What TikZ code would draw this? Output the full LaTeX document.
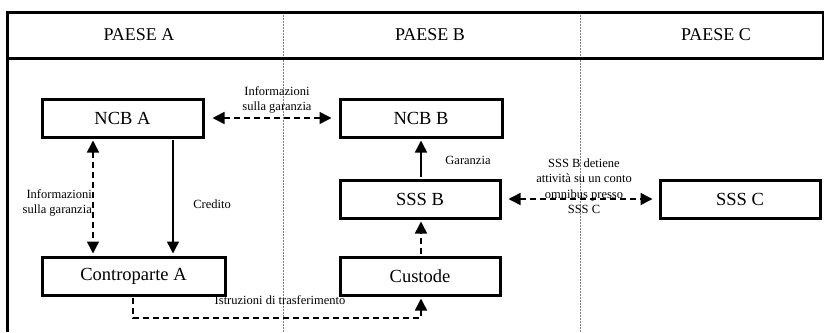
\documentclass[tikz,border=0pt]{standalone}
\usepackage{fontspec}
\setmainfont{Liberation Serif}
\usetikzlibrary{arrows.meta}
\begin{document}
\begin{tikzpicture}[x=1pt,y=-1pt,
  box/.style={draw=black,line width=3pt,fill=white,minimum height=38pt,inner sep=0pt,font=\fontsize{18.5}{22}\selectfont},
  head/.style={font=\fontsize{18}{22}\selectfont,inner sep=0pt},
  lbl/.style={font=\fontsize{12.5}{15.5}\selectfont,inner sep=0pt,align=center},
  conn/.style={line width=1.5pt,-{Triangle[length=12pt,width=12pt]}},
  biconn/.style={line width=1.5pt,{Triangle[length=12pt,width=12pt]}-{Triangle[length=12pt,width=12pt]}},
  dsh/.style={dash pattern=on 6pt off 4pt},
  frame/.style={line width=3pt},
  divider/.style={draw=gray,line width=0.8pt,dash pattern=on 2pt off 1pt}]
\useasboundingbox (0,0) rectangle (824,332);
% dividers
\draw[divider] (283,12) -- (283,332);
\draw[divider] (580,12) -- (580,332);
% frame
\draw[frame] (7,332) -- (7,12) -- (823,12) -- (823,58) -- (7,58);
% headers
\node[head] (ha) at (139,35) {PAESE A};
\node[head] (hb) at (430,35) {PAESE B};
\node[head] (hc) at (716,35) {PAESE C};
% boxes
\node[box,minimum width=161pt] (ncba) at (122.5,118) {NCB A};
\node[box,minimum width=162pt] (ncbb) at (421,118) {NCB B};
\node[box,minimum width=160pt] (sssb) at (420,199) {SSS B};
\node[box,minimum width=160pt] (cust) at (420,276) {Custode};
\node[box,minimum width=183pt] (contra) at (133.5,276) {Controparte A};
\node[box,minimum width=160pt] (sssc) at (740,199) {SSS C};
% connectors
\draw[biconn,dsh,shorten <=8pt,shorten >=7pt] (ncba.east) -- (ncbb.west);
\draw[biconn,dsh,shorten <=2pt,shorten >=2pt] (ncba.south -| 93,0) -- (contra.north -| 93,0);
\draw[conn,shorten <=1.5pt,shorten >=2pt] (ncba.south -| 173,0) -- (contra.north -| 173,0);
\draw[conn,shorten <=1.5pt,shorten >=2pt] (sssb.north -| 421,0) -- (ncbb.south -| 421,0);
\draw[conn,dsh,shorten <=1.5pt,shorten >=2pt] (cust.north -| 421,0) -- (sssb.south -| 421,0);
\draw[biconn,dsh,shorten <=7pt,shorten >=6pt] (sssb.east) -- (sssc.west);
\coordinate (c1) at (133,318);
\coordinate (c2) at (421,318);
\draw[conn,dsh,shorten <=1.5pt,shorten >=2pt] (contra.south -| c1) -- (c1) -- (c2) -- (cust.south -| c2);
% labels
\node[lbl] (l1) at (277,100) {Informazioni\\sulla garanzia};
\node[lbl,align=right,anchor=east] (l2) at (92,203) {Informazioni\\sulla garanzia};
\node[lbl] (l3) at (212,204) {Credito};
\node[lbl] (l4) at (468,160) {Garanzia};
\node[lbl] (l5) at (584,186) {SSS B detiene\\attività su un conto\\omnibus presso\\SSS C};
\node[lbl] (l6) at (280,300) {Istruzioni di trasferimento};
\end{tikzpicture}
\end{document}
